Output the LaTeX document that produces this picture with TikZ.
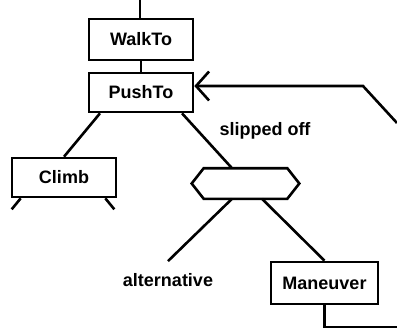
\documentclass[tikz,border=0pt]{standalone}
\usepackage{fontspec}
\setmainfont{Liberation Sans}
\usetikzlibrary{arrows.meta}
\begin{document}
\begin{tikzpicture}[x=1pt,y=-1pt,line width=2.6pt,line join=miter,
  box/.style={draw,rectangle,inner sep=0pt,font=\fontsize{18}{20}\selectfont\bfseries},
  lbl/.style={inner sep=0pt,font=\fontsize{18}{20}\selectfont\bfseries},
  barb/.style={-{Straight Barb[length=13pt,width=29pt,line width=2.6pt]}}]
\useasboundingbox (0,0) rectangle (397,333);
\node[box,minimum width=104pt,minimum height=41pt] (walk) at (141,39.5) {WalkTo};
\node[box,minimum width=104pt,minimum height=39pt] (push) at (141,92.5) {PushTo};
\node[box,minimum width=104pt,minimum height=39pt] (climb) at (64,177.5) {Climb};
\node[inner sep=0pt,minimum width=105pt,minimum height=28pt] (hex) at (245.5,183.5) {};
\draw (hex.west) -- ([xshift=12pt]hex.north west) -- ([xshift=-12pt]hex.north east)
  -- (hex.east) -- ([xshift=-12pt]hex.south east) -- ([xshift=12pt]hex.south west) -- cycle;
\node[box,minimum width=107pt,minimum height=42pt] (man) at (324.5,283) {Maneuver};
\node[lbl] (alt) at (168,280) {alternative};
\node[lbl] (slip) at (265,131) {slipped off};
\coordinate (t0) at (140,0);
\coordinate (r0) at (397,123);
\coordinate (r1) at (363,86);
\coordinate (o1) at (397,327);
\draw (t0) -- (t0 |- walk.north);
\draw (walk.south) -- (push.north);
\draw ([xshift=-41pt]push.south) -- (climb.north);
\draw ([xshift=41pt]push.south) -- ([xshift=-13.5pt]hex.north);
\draw ([xshift=-13.5pt]hex.south) -- ([yshift=11pt]alt.north);
\draw ([xshift=16.5pt]hex.south) -- (man.north);
\draw (man.south) |- (o1);
\draw[barb] (r0) -- (r1) -- (r1 -| push.east);
\draw ([xshift=10pt]climb.south west) -- ++(-9,11);
\draw ([xshift=-12pt]climb.south east) -- ++(9,11);
\end{tikzpicture}
\end{document}
